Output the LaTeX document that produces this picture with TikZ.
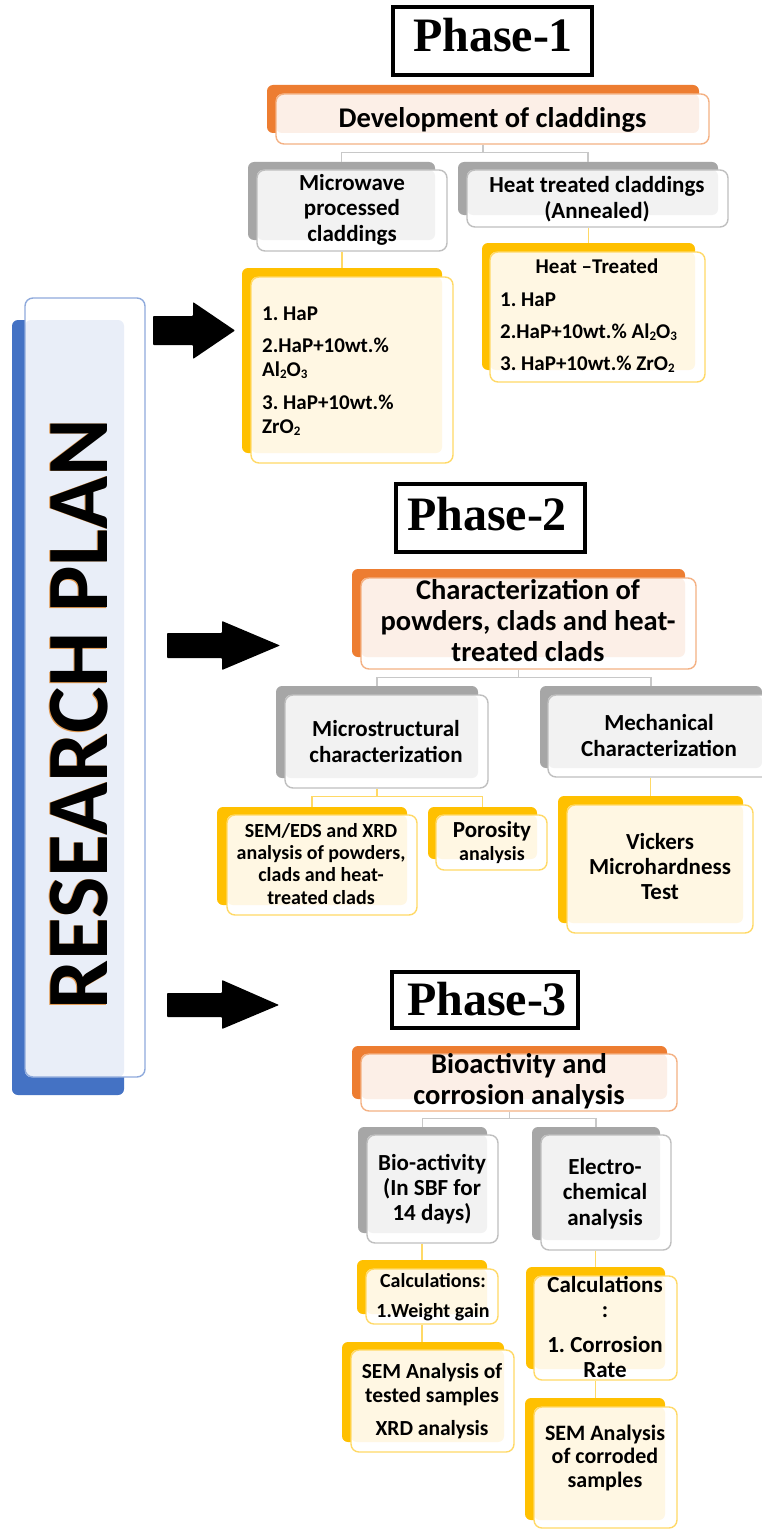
\documentclass[tikz,border=0pt]{standalone}
\usepackage{fontspec}
\setmainfont{Carlito}
\newfontfamily\phasefont{Liberation Serif}
\usetikzlibrary{fit}
\frenchspacing

\definecolor{orgBack}{HTML}{ED7D31}
\definecolor{orgLine}{HTML}{F4B183}
\definecolor{orgTint}{HTML}{FCEFE7}
\definecolor{gryBack}{HTML}{A6A6A6}
\definecolor{gryLine}{HTML}{BFBFBF}
\definecolor{gryTint}{HTML}{F2F2F2}
\definecolor{ylwBack}{HTML}{FFC000}
\definecolor{ylwLine}{HTML}{FFD966}
\definecolor{ylwTint}{HTML}{FFF7E3}
\definecolor{bluBack}{HTML}{4472C4}
\definecolor{bluLine}{HTML}{8FAADC}
\definecolor{bluTint}{HTML}{E9EEF8}
\definecolor{rpGlow}{HTML}{E39A4F}
\definecolor{conGray}{HTML}{C8C8C8}

% first-line strut so that a node's top sits a fixed height above its first baseline
\newcommand\fl{\rule{0pt}{.8em}}
\newcommand\sub[1]{\raisebox{-.12em}{\fontsize{13}{13}\selectfont #1}}
\newcommand\fs[2]{\fontsize{#1}{#2}\selectfont}

% two-layer box: solid back plate, white front card tinted where it overlaps the plate
\newcommand\dbox[6]{%
  \node[bk=#2, fit={#3 #4}] (#1-bk) {};
  \fill[white, rounded corners=8] #5 rectangle #6;
  \fill[#2Tint, rounded corners=6] #5 rectangle #4;
  \node[fr=#2, fit={#5 #6}] (#1) {};
}

\tikzset{
  bk/.style={fill=#1Back, rounded corners=6, inner sep=0, draw=none},
  fr/.style={draw=#1Line, line width=1.4, rounded corners=8, inner sep=0},
  gcon/.style={draw=conGray, line width=1.3},
  ycon/.style={draw=ylwLine, line width=1.3},
  txt/.style={inner sep=0, align=center, anchor=north},
  ltxt/.style={inner sep=0, align=left, anchor=north west},
  phasebox/.style={draw=black, line width=4.5, inner sep=0},
  phasetxt/.style={inner sep=0, anchor=base, font=\phasefont\bfseries\fs{48}{48}},
  bigarrow/.style={fill=black, rounded corners=0.8},
  rpfont/.style={rotate=90, inner sep=0, font=\bfseries\fs{87.5}{88}},
}

\begin{document}
\begin{tikzpicture}[x=1pt, y=-1pt]
\useasboundingbox (0,0) rectangle (762,1533);
\fill[white] (0,0) rectangle (762,1533);
\clip (0,0) rectangle (762,1533);

% ---------- research plan bar ----------
\node[bk=blu, fit={(12,320) (124,1095)}] (rp-bk) {};
\fill[white, rounded corners=8] (25,298) rectangle (145,1077);
\fill[bluTint, rounded corners=6] (25,320) rectangle (124,1077);
\node[fr=blu, fit={(25,298) (145,1077)}] (rp) {};
\node[rpfont, text=rpGlow] (rpglow) at (78.6,714.5) {RESEARCH PLAN};
\node[rpfont] (rptxt) at (79.5,714) {RESEARCH PLAN};

% ---------- block arrows ----------
\fill[bigarrow] (153,316) -- (193,316) -- (193,302) -- (235,330.5) -- (193,359) -- (193,345) -- (153,345) -- cycle;
\fill[bigarrow] (167,633) -- (222,633) -- (222,621) -- (280,645.5) -- (222,670) -- (222,658) -- (167,658) -- cycle;
\fill[bigarrow] (167,993) -- (222,993) -- (222,980) -- (279,1005) -- (222,1029) -- (222,1017) -- (167,1017) -- cycle;

% ---------- phase 1 ----------
\node[phasebox, fit={(393,7) (592,75)}] (ph1) {};
\node[phasetxt] (ph1t) at (493,52) {Phase-1};

\dbox{dev}{org}{(267,85)}{(699,133)}{(276,94)}{(709,144)}
\dbox{mw}{gry}{(248,162)}{(435,240)}{(257,170)}{(447,251)}
\dbox{htc}{gry}{(458,162)}{(718,215)}{(467,170)}{(728,227)}
\dbox{mwl}{ylw}{(242,268)}{(442,453)}{(251,277)}{(453,463)}
\dbox{htl}{ylw}{(482,243)}{(695,370)}{(490,252)}{(705,382)}

\draw[gcon] (dev-bk.center |- dev.south) -- ++(0,8) coordinate (j1)
  -| (mw-bk.north) (j1) -| (htc-bk.north);
\draw[ycon] (mwl-bk.north |- mw.south) -- (mwl-bk.north);
\draw[ycon] (htl-bk.north |- htc.south) -- (htl-bk.north);

\node[txt, font=\bfseries\fs{28.5}{31}] (devt) at (492.5,104.2) {\fl Development of claddings};
\node[txt, font=\bfseries\fs{23}{25.5}] (mwt) at (352,171.6) {\fl Microwave\\processed\\claddings};
\node[txt, font=\bfseries\fs{23}{26}] (htct) at (597,173.6) {\fl Heat treated claddings\\(Annealed)};
\node[ltxt, font=\bfseries\fs{21}{24}] (mwlt) at (262,303.2)
  {\fl 1. HaP\\[8pt]2.HaP+10wt.\%\\Al\sub{2}O\sub{3}\\[9pt]3. HaP+10wt.\%\\ZrO\sub{2}};
\node[txt, font=\bfseries\fs{21}{24}] (htlh) at (597,256) {\fl Heat --Treated};
\node[ltxt, font=\bfseries\fs{21}{24}] (htlt) at (500,289.2)
  {\fl 1. HaP\\[8pt]2.HaP+10wt.\% Al\sub{2}O\sub{3}\\[8pt]3. HaP+10wt.\% ZrO\sub{2}};

% ---------- phase 2 ----------
\node[phasebox, fit={(396,484) (585,552)}] (ph2) {};
\node[phasetxt] (ph2t) at (487,530) {Phase-2};

\dbox{chr}{org}{(352,569)}{(685,657)}{(361,578)}{(696,669)}
\dbox{mic}{gry}{(276,686)}{(478,778)}{(285,695)}{(488,788)}
\dbox{mec}{gry}{(540,686)}{(762,768)}{(548,695)}{(772,777)}
\dbox{sem}{ylw}{(217,807)}{(407,905)}{(227,815)}{(417,915)}
\dbox{por}{ylw}{(428,807)}{(537,859)}{(436,815)}{(547,870)}
\dbox{vic}{ylw}{(558,796)}{(743,923)}{(567,805)}{(753,933)}

\draw[gcon] (chr-bk.center |- chr.south) -- ++(0,8) coordinate (j2)
  -| (mic-bk.north) (j2) -| (mec-bk.north);
\draw[ycon] (mic-bk.center |- mic.south) -- ++(0,8) coordinate (j3)
  -| (sem-bk.north) (j3) -| (por-bk.north);
\draw[ycon] (vic-bk.north |- mec.south) -- (vic-bk.north);

\node[txt, font=\bfseries\fs{28.5}{31}] (chrt) at (528,576.2)
  {\fl Characterization of\\powders, clads and heat-\\treated clads};
\node[txt, font=\bfseries\fs{23}{26}] (mict) at (386,717.6) {\fl Microstructural\\characterization};
\node[txt, font=\bfseries\fs{23}{26}] (mect) at (659,711.6) {\fl Mechanical\\Characterization};
\node[txt, font=\bfseries\fs{20}{22.3}] (semt) at (321,821)
  {\fl SEM/EDS and XRD\\analysis of powders,\\clads and heat-\\treated clads};
\node[txt, font=\bfseries\fs{23}{25}] (port) at (492,818.6) {\fl Porosity};
\node[txt, font=\bfseries\fs{20}{22}] (porta) at (492,844) {\fl analysis};
\node[txt, font=\bfseries\fs{23}{25}] (vict) at (660,830.6) {\fl Vickers\\Microhardness\\Test};

% ---------- phase 3 ----------
\node[phasebox, fit={(392,972) (578,1028)}] (ph3) {};
\node[phasetxt] (ph3t) at (487,1015) {Phase-3};

\dbox{bcr}{org}{(352,1046)}{(667,1099)}{(361,1054)}{(677,1111)}
\dbox{bio}{gry}{(358,1127)}{(487,1233)}{(367,1135)}{(498,1243)}
\dbox{ele}{gry}{(532,1127)}{(660,1240)}{(541,1135)}{(671,1250)}
\dbox{cal1}{ylw}{(357,1260)}{(487,1314)}{(366,1269)}{(498,1324)}
\dbox{sem1}{ylw}{(342,1342)}{(504,1442)}{(351,1350)}{(514,1452)}
\dbox{cal2}{ylw}{(526,1267)}{(665,1369)}{(534,1276)}{(677,1380)}
\dbox{sem2}{ylw}{(525,1398)}{(665,1520)}{(534,1407)}{(677,1528)}

\draw[gcon] (bcr-bk.center |- bcr.south) -- ++(0,7) coordinate (j4)
  -| (bio-bk.north) (j4) -| (ele-bk.north);
\draw[ycon] (cal1-bk.north |- bio.south) -- (cal1-bk.north);
\draw[ycon] (cal1-bk.north |- cal1.south) -- (cal1-bk.north |- sem1-bk.north);
\draw[ycon] (cal2-bk.north |- ele.south) -- (cal2-bk.north);
\draw[ycon] (cal2-bk.north |- cal2.south) -- (cal2-bk.north |- sem2-bk.north);

\node[txt, font=\bfseries\fs{28.5}{31}] (bcrt) at (519,1050.2) {\fl Bioactivity and\\corrosion analysis};
\node[txt, font=\bfseries\fs{23}{25}] (biot) at (432,1151.6) {\fl Bio-activity\\(In SBF for\\14 days)};
\node[txt, font=\bfseries\fs{23}{25.5}] (elet) at (605,1155.6) {\fl Electro-\\chemical\\analysis};
\node[txt, font=\bfseries\fs{20}{22}] (cal1t) at (433,1271) {\fl Calculations:\\[8pt]1.Weight gain};
\node[txt, font=\bfseries\fs{21.5}{24}] (sem1t) at (432,1360.8)
  {\fl SEM Analysis of\\tested samples\\[9pt]XRD analysis};
\node[txt, font=\bfseries\fs{23}{25}] (cal2t) at (605,1273.6) {\fl Calculations\\:\\[10pt]1. Corrosion\\Rate};
\node[txt, font=\bfseries\fs{22}{23.5}] (sem2t) at (605,1422.4) {\fl SEM Analysis\\of corroded\\samples};

\end{tikzpicture}
\end{document}
